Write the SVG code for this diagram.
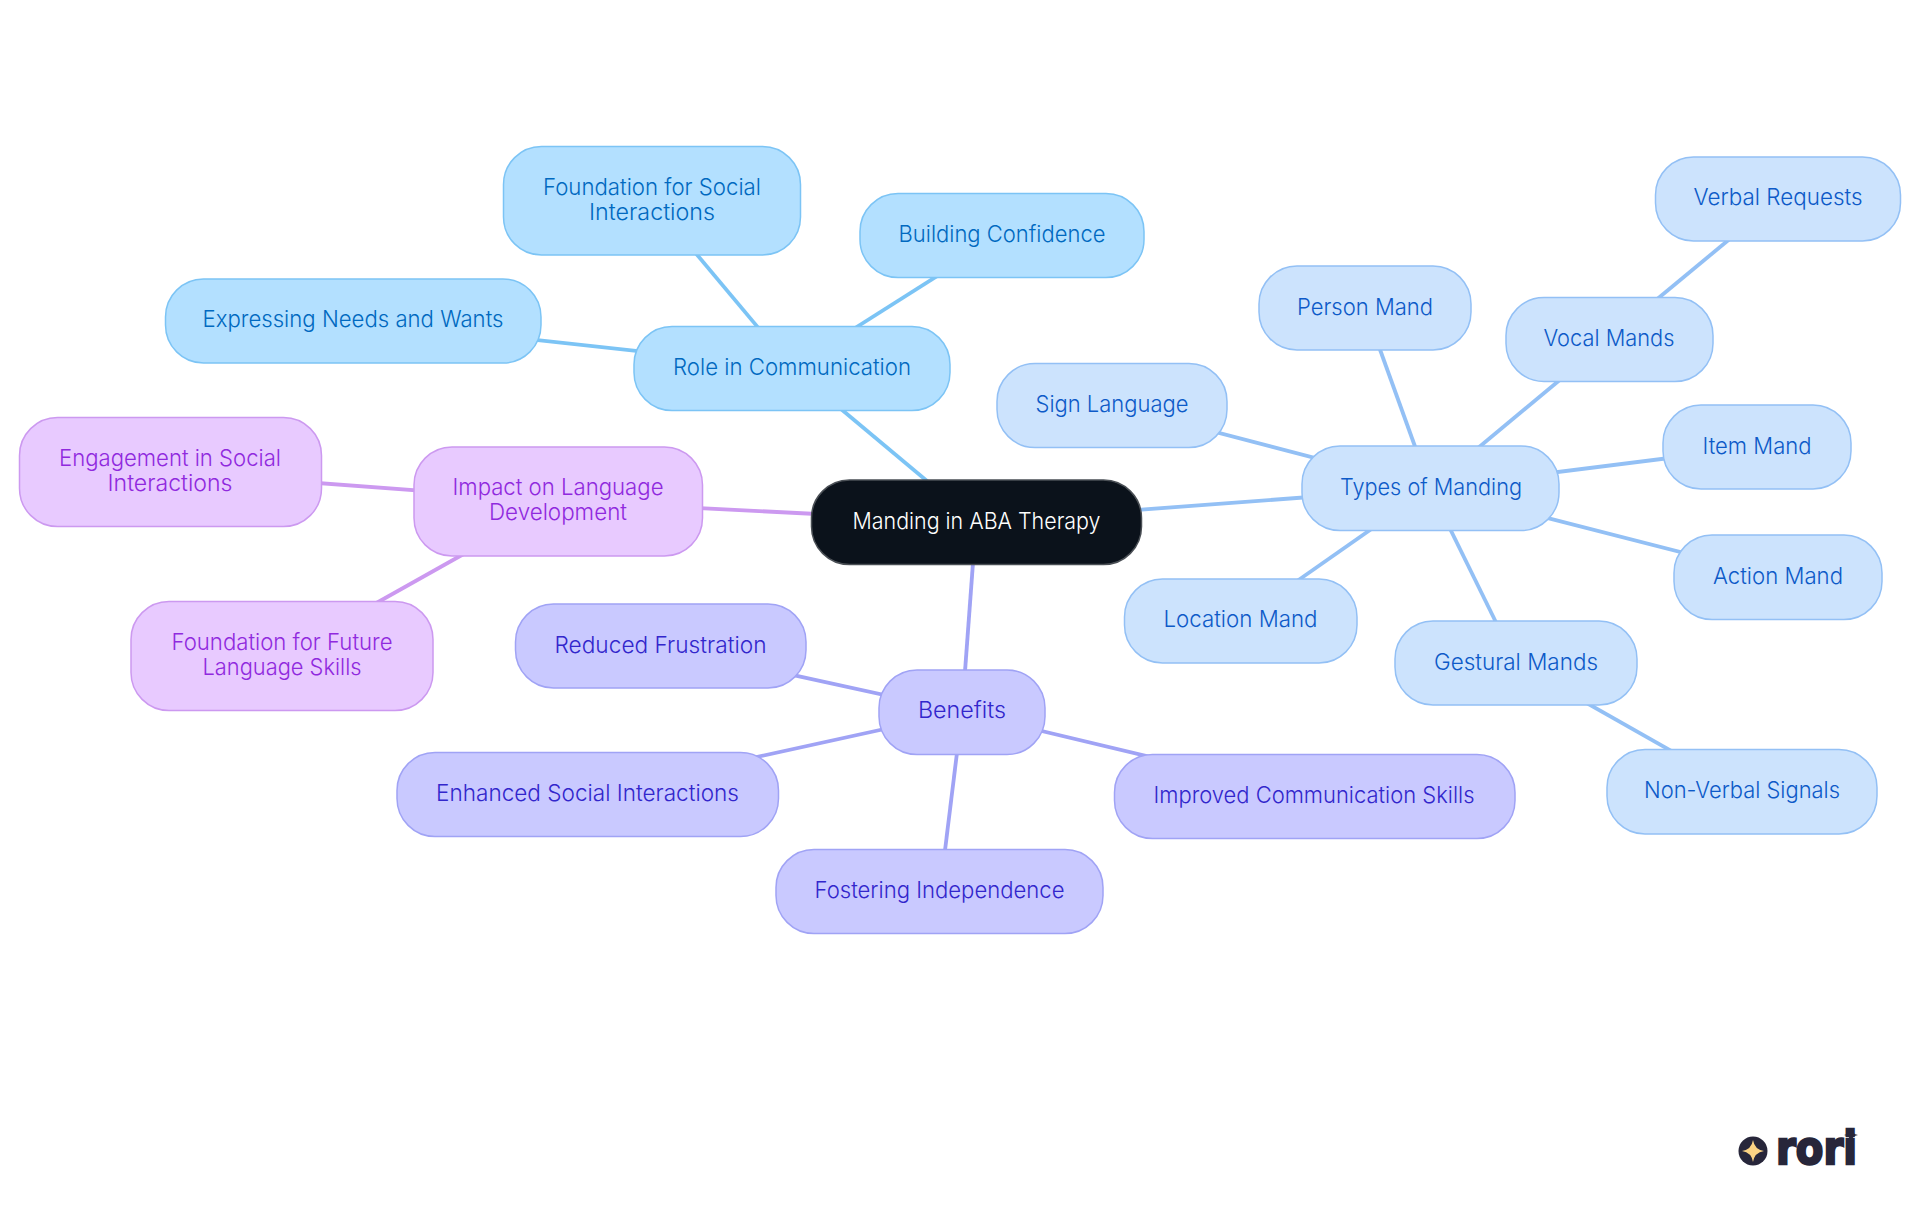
<svg xmlns="http://www.w3.org/2000/svg" width="1920" height="1215" viewBox="0 0 1920 1215">
<style>
text{font-family:Inter,"Liberation Sans",sans-serif;font-size:23px;text-anchor:middle;font-weight:350}
.e{fill:none;stroke-width:3.800}
.b1 rect{fill:#b3e0ff;stroke:#7cc4f5}.b1 text{fill:#0069c0}
.b2 rect{fill:#cce3fd;stroke:#93c0f5}.b2 text{fill:#0d5ac8}
.b3 rect{fill:#c9c9ff;stroke:#a0a3f5}.b3 text{fill:#3226cc}
.b4 rect{fill:#e8caff;stroke:#cc99f0}.b4 text{fill:#9029de}
.r rect{fill:#0b121b;stroke:#4a4f55}.r text{fill:#fff}
rect{stroke-width:1.500}
</style>
<rect width="1920" height="1215" fill="#fff" style="stroke:none"/>
<g id="connectors">
<g class="e" stroke="#7cc4f5">
<line x1="976" y1="522" x2="792" y2="368"/><line x1="792" y1="368" x2="652" y2="201"/><line x1="792" y1="368" x2="1002" y2="235"/><line x1="792" y1="368" x2="353" y2="320"/>
</g>
<g class="e" stroke="#93c0f5">
<line x1="976" y1="522" x2="1430" y2="488"/><line x1="1430" y1="488" x2="1112" y2="405"/><line x1="1430" y1="488" x2="1365" y2="308"/><line x1="1430" y1="488" x2="1609" y2="339"/><line x1="1609" y1="339" x2="1778" y2="199"/><line x1="1430" y1="488" x2="1757" y2="447"/><line x1="1430" y1="488" x2="1778" y2="577"/><line x1="1430" y1="488" x2="1516" y2="663"/><line x1="1516" y1="663" x2="1742" y2="791"/><line x1="1430" y1="488" x2="1240" y2="621"/>
</g>
<g class="e" stroke="#a0a3f5">
<line x1="976" y1="522" x2="962" y2="712"/><line x1="962" y1="712" x2="660" y2="646"/><line x1="962" y1="712" x2="588" y2="794"/><line x1="962" y1="712" x2="940" y2="891"/><line x1="962" y1="712" x2="1314" y2="796"/>
</g>
<g class="e" stroke="#cc99f0">
<line x1="976" y1="522" x2="558" y2="501"/><line x1="558" y1="501" x2="170" y2="472"/><line x1="558" y1="501" x2="282" y2="656"/>
</g>
</g>
<g id="root" class="r"><rect x="811.500" y="480" width="330" height="84.500" rx="38"/><text x="976.500" y="529" textLength="248" lengthAdjust="spacingAndGlyphs">Manding in ABA Therapy</text></g>
<g id="role" class="b1"><rect x="634" y="326.500" width="316" height="84" rx="38"/><text x="792" y="375" textLength="238" lengthAdjust="spacingAndGlyphs">Role in Communication</text></g>
<g id="foundation-social" class="b1"><rect x="503.500" y="146.500" width="297" height="108.500" rx="38"/><text x="652" y="194.500" textLength="218" lengthAdjust="spacingAndGlyphs">Foundation for Social</text><text x="652" y="220" textLength="126" lengthAdjust="spacingAndGlyphs">Interactions</text></g>
<g id="building" class="b1"><rect x="860" y="193.500" width="284" height="84" rx="38"/><text x="1002" y="242" textLength="207" lengthAdjust="spacingAndGlyphs">Building Confidence</text></g>
<g id="expressing" class="b1"><rect x="165.500" y="279" width="375.500" height="84" rx="38"/><text x="353" y="327" textLength="301" lengthAdjust="spacingAndGlyphs">Expressing Needs and Wants</text></g>
<g id="impact" class="b4"><rect x="414" y="447" width="288.500" height="109" rx="38"/><text x="558" y="495" textLength="211" lengthAdjust="spacingAndGlyphs">Impact on Language</text><text x="558" y="520" textLength="138" lengthAdjust="spacingAndGlyphs">Development</text></g>
<g id="engagement" class="b4"><rect x="19.500" y="417.500" width="302" height="109" rx="38"/><text x="170" y="466" textLength="222" lengthAdjust="spacingAndGlyphs">Engagement in Social</text><text x="170" y="491" textLength="125" lengthAdjust="spacingAndGlyphs">Interactions</text></g>
<g id="foundation-future" class="b4"><rect x="131" y="601.500" width="302" height="109" rx="38"/><text x="282" y="650" textLength="221" lengthAdjust="spacingAndGlyphs">Foundation for Future</text><text x="282" y="675" textLength="159" lengthAdjust="spacingAndGlyphs">Language Skills</text></g>
<g id="benefits" class="b3"><rect x="879" y="670" width="166" height="84.500" rx="38"/><text x="962" y="718" textLength="88" lengthAdjust="spacingAndGlyphs">Benefits</text></g>
<g id="reduced" class="b3"><rect x="515.500" y="604" width="290.500" height="84" rx="38"/><text x="660.500" y="652.500" textLength="212" lengthAdjust="spacingAndGlyphs">Reduced Frustration</text></g>
<g id="enhanced" class="b3"><rect x="397" y="752.500" width="381.500" height="84" rx="38"/><text x="587.500" y="801" textLength="303" lengthAdjust="spacingAndGlyphs">Enhanced Social Interactions</text></g>
<g id="fostering" class="b3"><rect x="776" y="849.500" width="327" height="84" rx="38"/><text x="939.500" y="898" textLength="250" lengthAdjust="spacingAndGlyphs">Fostering Independence</text></g>
<g id="improved" class="b3"><rect x="1114.500" y="754.500" width="400.500" height="84" rx="38"/><text x="1314" y="803" textLength="321" lengthAdjust="spacingAndGlyphs">Improved Communication Skills</text></g>
<g id="types" class="b2"><rect x="1302" y="446" width="257" height="84.500" rx="38"/><text x="1431" y="494.500" textLength="182" lengthAdjust="spacingAndGlyphs">Types of Manding</text></g>
<g id="sign" class="b2"><rect x="997" y="363.500" width="230" height="84" rx="38"/><text x="1112" y="412" textLength="153" lengthAdjust="spacingAndGlyphs">Sign Language</text></g>
<g id="person" class="b2"><rect x="1259" y="266" width="212" height="84" rx="38"/><text x="1365" y="314.500" textLength="136" lengthAdjust="spacingAndGlyphs">Person Mand</text></g>
<g id="vocal" class="b2"><rect x="1506" y="297.500" width="207" height="84" rx="38"/><text x="1609" y="346" textLength="131" lengthAdjust="spacingAndGlyphs">Vocal Mands</text></g>
<g id="verbal" class="b2"><rect x="1655.500" y="157" width="245" height="84" rx="38"/><text x="1778" y="205" textLength="169" lengthAdjust="spacingAndGlyphs">Verbal Requests</text></g>
<g id="item" class="b2"><rect x="1663" y="405" width="188" height="84" rx="38"/><text x="1757" y="453.500" textLength="109" lengthAdjust="spacingAndGlyphs">Item Mand</text></g>
<g id="action" class="b2"><rect x="1674" y="535" width="208" height="84.500" rx="38"/><text x="1778" y="583.500" textLength="130" lengthAdjust="spacingAndGlyphs">Action Mand</text></g>
<g id="gestural" class="b2"><rect x="1395" y="621" width="242" height="84" rx="38"/><text x="1516" y="669.500" textLength="164" lengthAdjust="spacingAndGlyphs">Gestural Mands</text></g>
<g id="non-verbal" class="b2"><rect x="1607" y="749.500" width="270" height="84.500" rx="38"/><text x="1742" y="798" textLength="196" lengthAdjust="spacingAndGlyphs">Non-Verbal Signals</text></g>
<g id="location" class="b2"><rect x="1124.500" y="579" width="232.500" height="84" rx="38"/><text x="1240.500" y="627" textLength="154" lengthAdjust="spacingAndGlyphs">Location Mand</text></g>
<g id="logo">
<circle cx="1753" cy="1151" r="14.500" fill="#27263a"/>
<path d="M1753 1140Q1754.500 1149.500 1764 1151Q1754.500 1152.500 1753 1162Q1751.500 1152.500 1742 1151Q1751.500 1149.500 1753 1140Z" fill="#fbd384"/>
<text x="1816.500" y="1164" textLength="81" lengthAdjust="spacingAndGlyphs" style="font-family:'DejaVu Sans',sans-serif;font-weight:700;font-size:47px;fill:#27263a;stroke:#27263a;stroke-width:2.500">rori</text>
<path d="M1851 1128Q1852 1134 1858 1135Q1852 1136 1851 1142Q1850 1136 1844 1135Q1850 1134 1851 1128Z" fill="#27263a"/>
</g>
</svg>
